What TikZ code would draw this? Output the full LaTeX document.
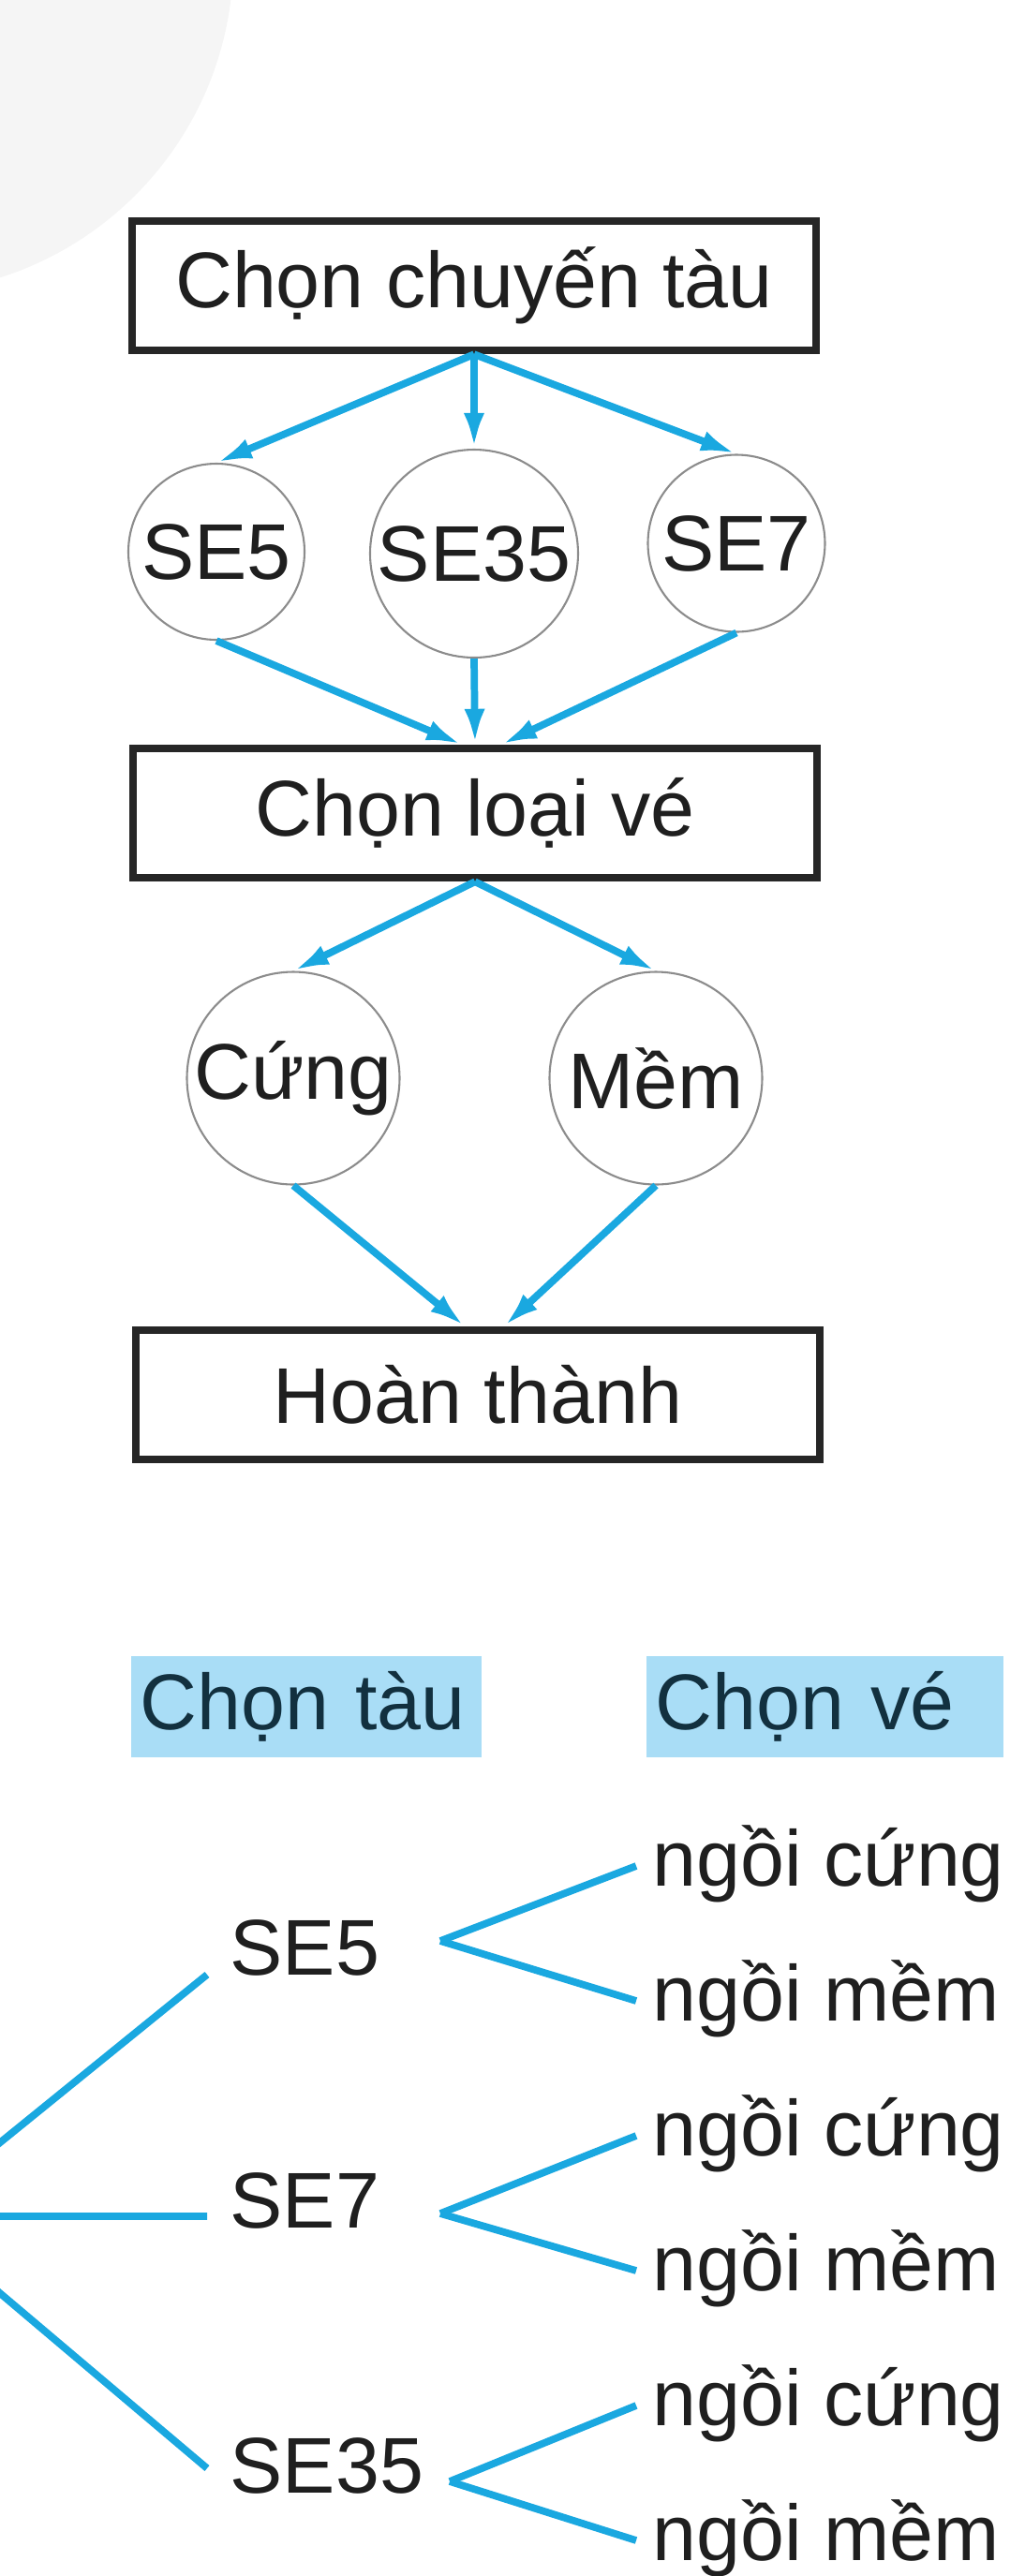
\documentclass[tikz,border=0pt]{standalone}
\usepackage{fontspec}
\setmainfont{Liberation Sans}
\usepackage{tikz}
\usetikzlibrary{positioning, arrows.meta}
\definecolor{arrowblue}{HTML}{1AA8E0}
\definecolor{hdrblue}{HTML}{A9DDF6}
\definecolor{hdrtext}{HTML}{12303F}

\begin{document}
\begin{tikzpicture}[every node/.style={font=\fontsize{24}{28}\selectfont, text=black!88},
  box/.style={draw=black!85, line width=2.4pt, minimum width=7.3cm, minimum height=1.38cm, inner sep=0pt},
  ring/.style={circle, draw=black!45, line width=0.6pt, inner sep=0pt},
  arr/.style={arrowblue, line width=2.2pt, -{Latex[length=0.38cm, width=0.22cm]}},
  twig/.style={arrowblue, line width=2.2pt},
  hdr/.style={fill=hdrblue, text=hdrtext, minimum height=1.08cm, align=left, inner xsep=0.1cm},
  leaf/.style={anchor=base west, inner sep=0pt}]
\useasboundingbox (0,0) rectangle (10.94,-27.5);
% faint watermark
\fill[black!4] (-1.08,0.44) circle (3.57);
% flow chart
\node[box] (chon) at (5.06,-3.05) {Chọn chuyến tàu};
\node[ring, minimum size=1.88cm] (se5) at (2.31,-5.89) {SE5};
\node[ring, minimum size=2.22cm] (se35) at (5.06,-5.91) {SE35};
\node[ring, minimum size=1.89cm] (se7) at (7.86,-5.80) {SE7};
\node[box] (loai) at (5.07,-8.68) {Chọn loại vé};
\node[ring, minimum size=2.27cm] (cung) at (3.13,-11.51) {Cứng};
\node[ring, minimum size=2.27cm] (mem) at (7.00,-11.51) {Mềm};
\node[box] (xong) at (5.10,-14.89) {Hoàn thành};
\foreach \t in {se5,se35,se7}{\draw[arr] (chon.south) -- (\t.north);}
\draw[arr] (se5.south) -- ([xshift=-1.4mm]loai.north);
\draw[arr] (se35.south) -- (loai.north);
\draw[arr] (se7.south) -- ([xshift=2.8mm]loai.north);
\foreach \t in {cung,mem}{\draw[arr] (loai.south) -- (\t.north);}
\draw[arr] (cung.south) -- ([xshift=-1.4mm]xong.north);
\draw[arr] (mem.south) -- ([xshift=2.8mm]xong.north);
% tree
\node[hdr, text width=3.54cm, anchor=west] (htau) at (1.39,-18.22) {Chọn tàu};
\node[hdr, text width=3.61cm, anchor=west] (hve) at (6.89,-18.22) {Chọn vé};
\coordinate (goc) at (-0.97,-23.66);
\node[leaf] (t5) at (2.45,-21.08) {SE5};
\node[leaf] (t7) at (2.45,-23.78) {SE7};
\node[leaf] (t35) at (2.45,-26.61) {SE35};
\draw[twig] (goc) -- ([shift={(-0.24,0)}]t5.base west);
\draw[twig] (goc) -- ([shift={(-0.24,0.12)}]t7.base west);
\draw[twig] (goc) -- ([shift={(-0.24,0.26)}]t35.base west);
\coordinate (f5) at (4.70,-20.72);
\coordinate (f7) at (4.70,-23.63);
\coordinate (f35) at (4.80,-26.49);
\foreach \i/\y/\s/\f in {a/20.13/cứng/f5, b/21.57/mềm/f5, c/23.01/cứng/f7, d/24.45/mềm/f7, e/25.89/cứng/f35, f/27.33/mềm/f35}{
  \node[leaf] (la\i) at (6.96,-\y) {ngồi \s};
  \draw[twig] (\f) -- ([shift={(-0.17,0.21)}]la\i.base west);
}
\end{tikzpicture}
\end{document}
